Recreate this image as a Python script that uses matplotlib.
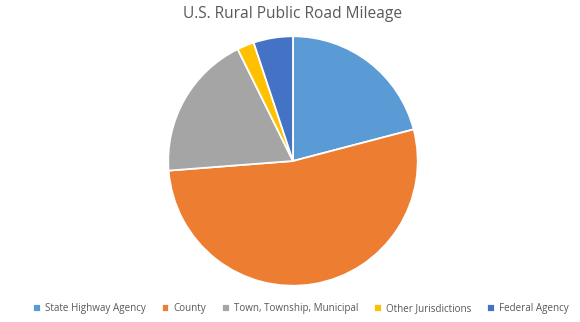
import matplotlib.pyplot as plt

# Share of rural public road mileage by owner
labels = ["State Highway Agency", "County", "Town, Township, Municipal",
          "Other Jurisdictions", "Federal Agency"]
shares = [20.9, 52.8, 18.9, 2.2, 5.1]
colors = ["#5B9BD5", "#ED7D31", "#A5A5A5", "#FFC000", "#4472C4"]

plt.rcParams['font.family'] = ['Open Sans', 'DejaVu Sans']

fig = plt.figure(figsize=(5.8, 3.22), dpi=100)
ax = fig.add_axes([0.2879, 0.1087, 0.4345, 0.7826])
wedges, _ = ax.pie(shares, colors=colors, startangle=90, counterclock=False,
                   radius=1.0, wedgeprops=dict(edgecolor="white", linewidth=1.3))
ax.set_xlim(-1.01, 1.01)
ax.set_ylim(-1.01, 1.01)
ax.set_aspect("equal")

fig.text(0.505, 1 - 14 / 322, "U.S. Rural Public Road Mileage", ha="center", va="center",
         fontsize=11.2, color="#595959")

fig.legend(wedges, labels, loc="center", bbox_to_anchor=(301 / 580, 1 - 309 / 322),
           ncol=5, frameon=False, fontsize=7.1, handlelength=0.75, handleheight=0.75,
           handletextpad=0.45, columnspacing=1.6, labelcolor="#595959")

fig.savefig("out.png", dpi=100)
